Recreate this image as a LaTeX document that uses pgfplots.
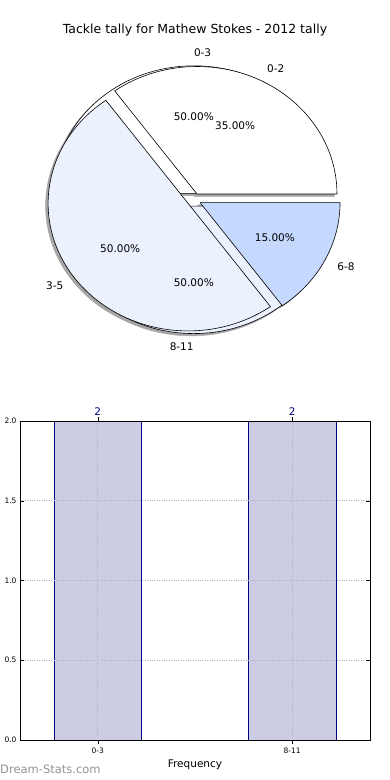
\documentclass[border=0pt]{standalone}
\usepackage{pgfplots}
\pgfplotsset{compat=1.18}
\usepackage{fontspec}
\setmainfont{DejaVu Sans}
\definecolor{pieA}{HTML}{EBF1FD}
\definecolor{pieB}{HTML}{C5D8FD}
\definecolor{barfill}{HTML}{CCCCE5}
\definecolor{navyc}{HTML}{000080}
% #1 start percent, #2 end percent, #3 fill colour
\newcommand{\pieslice}[3]{%
  \filldraw[fill=#3, draw=black, line width=0.6pt, line join=round]
  (axis cs:{0.05*cos((#1+#2)*1.8)},{0.05*sin((#1+#2)*1.8)}) --
  (axis cs:{0.05*cos((#1+#2)*1.8)+cos(#1*3.6)},{0.05*sin((#1+#2)*1.8)+sin(#1*3.6)})
  arc[start angle={#1*3.6}, end angle={#2*3.6}, x radius=140pt, y radius=127.5pt] -- cycle;}
\newcommand{\pieshadow}[2]{%
  \filldraw[fill=black!35, draw=black!35, line width=0.5pt, line join=round]
  (axis cs:{0.05*cos((#1+#2)*1.8)-0.018},{0.05*sin((#1+#2)*1.8)-0.018}) --
  (axis cs:{0.05*cos((#1+#2)*1.8)+cos(#1*3.6)-0.018},{0.05*sin((#1+#2)*1.8)+sin(#1*3.6)-0.018})
  arc[start angle={#1*3.6}, end angle={#2*3.6}, x radius=140pt, y radius=127.5pt] -- cycle;}
\begin{document}
\begin{tikzpicture}[x=1pt,y=1pt]
\path[use as bounding box] (0,0) rectangle (390,780);
\node[font=\fontsize{12.5}{14}\selectfont] at (195,750) {Tackle tally for Mathew Stokes - 2012 tally};
\begin{axis}[at={(193.8pt,580.3pt)}, anchor=center, x=140pt, y=127.5pt,
  xmin=-1.3, xmax=1.3, ymin=-1.3, ymax=1.3, hide axis, clip=false]
  % shadows
  \pieshadow{0}{50}
  \pieshadow{50}{100}
  \pieshadow{0}{35}
  \pieshadow{35}{85}
  \pieshadow{85}{100}
  % pie of the 2012 tally: 0-3 = 50, 8-11 = 50
  \pieslice{0}{50}{white}
  \pieslice{50}{100}{pieA}
  % pie of the ranges: 0-2 = 35, 3-5 = 50, 6-8 = 15
  \pieslice{0}{35}{white}
  \pieslice{35}{85}{pieA}
  \pieslice{85}{100}{pieB}
  % labels
  \begin{scope}[every node/.style={font=\fontsize{10.5}{12}\selectfont, inner sep=0pt}]
  \node[anchor=west] at (axis cs:{1.15*cos(90)},{1.15*sin(90)}) {0-3};
  \node[anchor=east] at (axis cs:{1.15*cos(270)},{1.15*sin(270)}) {8-11};
  \node[anchor=west] at (axis cs:{1.15*cos(63)},{1.15*sin(63)}) {0-2};
  \node[anchor=east] at (axis cs:{1.15*cos(216)},{1.15*sin(216)}) {3-5};
  \node[anchor=west] at (axis cs:{1.15*cos(333)},{1.15*sin(333)}) {6-8};
  \node at (axis cs:{0.65*cos(90)},{0.65*sin(90)}) {50.00\%};
  \node at (axis cs:{0.65*cos(270)},{0.65*sin(270)}) {50.00\%};
  \node at (axis cs:{0.65*cos(63)},{0.65*sin(63)}) {35.00\%};
  \node at (axis cs:{0.65*cos(216)},{0.65*sin(216)}) {50.00\%};
  \node at (axis cs:{0.65*cos(333)},{0.65*sin(333)}) {15.00\%};
  \end{scope}
\end{axis}
\begin{axis}[at={(20pt,40pt)}, anchor=south west, scale only axis, width=350pt, height=319pt,
  xmin=-0.4, xmax=1.4, ymin=0, ymax=2,
  xtick={0,1}, xticklabels={0-3,8-11},
  ytick={0,0.5,1,1.5,2},
  yticklabel style={/pgf/number format/.cd, fixed, fixed zerofill, precision=1},
  /pgf/number format/assume math mode=true,
  tick label style={font=\fontsize{7.5}{9}\selectfont},
  xlabel={Frequency}, xlabel style={font=\fontsize{10.5}{12}\selectfont},
  grid=major, major grid style={dotted, gray!60, line width=0.8pt},
  tick style={black, line width=0.5pt}, major tick length=4pt,
  axis line style={line width=0.8pt},
  axis on top,
  ybar, bar width=0.45,
  nodes near coords,
  nodes near coords style={font=\fontsize{10.5}{12}\selectfont, text=navyc, anchor=south, inner sep=0pt, yshift=5pt},
]
\addplot[fill=barfill, draw=navyc, line width=0.7pt] coordinates {(0,2) (1,2)};
\end{axis}
\node[anchor=west, text=gray!85!white, font=\fontsize{11.5}{13}\selectfont, inner sep=0pt] at (0,11) {Dream-Stats.com};
\end{tikzpicture}
\end{document}
